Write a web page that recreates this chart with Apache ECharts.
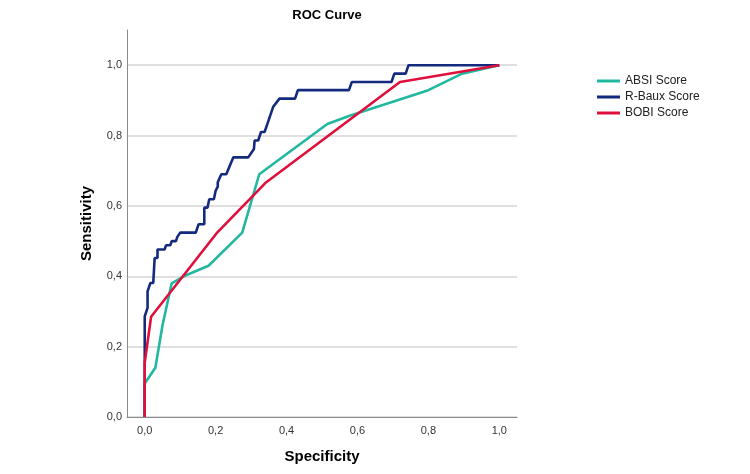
<!DOCTYPE html>
<html>
<head>
<meta charset="utf-8">
<script src="https://cdn.jsdelivr.net/npm/echarts@6/dist/echarts.min.js"></script>
<style>
html,body{margin:0;padding:0;background:#fff;}
#chart{width:750px;height:474px;}
</style>
</head>
<body>
<div id="chart"></div>
<script>
var seriesNames = ['ABSI Score', 'R-Baux Score', 'BOBI Score'];
var tickValues = [0, 0.2, 0.4, 0.6, 0.8, 1.0];

var absiX = [0, 0, 0.03, 0.05, 0.076, 0.11, 0.18, 0.275, 0.323, 0.515, 0.58, 0.8, 0.895, 1];
var absiY = [0, 0.095, 0.14, 0.26, 0.38, 0.4, 0.43, 0.524, 0.69, 0.833, 0.857, 0.929, 0.976, 1];

var rbauxX = [0, 0, 0.008, 0.008, 0.016, 0.024, 0.028, 0.036, 0.036, 0.056, 0.06, 0.072, 0.076, 0.088, 0.092, 0.1, 0.144, 0.152, 0.168, 0.168, 0.177, 0.182, 0.195, 0.2, 0.206, 0.206, 0.216, 0.23, 0.24, 0.25, 0.292, 0.308, 0.31, 0.32, 0.328, 0.338, 0.346, 0.362, 0.38, 0.424, 0.432, 0.576, 0.584, 0.696, 0.704, 0.736, 0.744, 1];
var rbauxY = [0, 0.286, 0.31, 0.357, 0.381, 0.381, 0.452, 0.452, 0.476, 0.476, 0.488, 0.488, 0.5, 0.5, 0.512, 0.524, 0.524, 0.548, 0.548, 0.595, 0.595, 0.619, 0.619, 0.643, 0.655, 0.667, 0.69, 0.69, 0.714, 0.738, 0.738, 0.762, 0.786, 0.786, 0.81, 0.81, 0.833, 0.881, 0.905, 0.905, 0.929, 0.929, 0.952, 0.952, 0.976, 0.976, 1, 1];

var bobiX = [0, 0, 0.018, 0.205, 0.34, 0.72, 1];
var bobiY = [0, 0.155, 0.285, 0.525, 0.665, 0.952, 1];

var colors = ['#22b8a0', '#142a7e', '#e0103c'];

function zip(xs, ys) { return xs.map(function (x, i) { return [x, ys[i]]; }); }

var chart = echarts.init(document.getElementById('chart'), null, {renderer: 'canvas'});
var fmt = function (v) { return v.toFixed(1).replace('.', ','); };
var font = '"Liberation Sans", Arial, sans-serif';

chart.setOption({
  animation: false,
  backgroundColor: '#fff',
  title: {
    text: 'ROC Curve', left: 322, top: 4, textAlign: 'center',
    textStyle: {fontFamily: font, fontSize: 13, fontWeight: 'bold', color: '#000'}
  },
  legend: {
    orient: 'vertical', left: 597, top: 74, padding: 0,
    itemWidth: 23, itemHeight: 3, itemGap: 2, icon: 'rect',
    textStyle: {fontFamily: font, fontSize: 12, color: '#222', lineHeight: 14},
    data: seriesNames
  },
  grid: {left: 127, right: 233, top: 30, bottom: 57},
  xAxis: {
    type: 'value', min: -0.05, max: 1.05,
    name: 'Specificity', nameLocation: 'middle', nameGap: 32,
    nameTextStyle: {fontFamily: font, fontSize: 15, fontWeight: 'bold', color: '#000'},
    axisLine: {show: true, onZero: false, lineStyle: {color: '#8a8a8a', width: 1}},
    axisTick: {show: false, customValues: tickValues},
    axisLabel: {customValues: tickValues, formatter: fmt, fontFamily: font, fontSize: 11, color: '#333', margin: 8},
    splitLine: {show: false}
  },
  yAxis: {
    type: 'value', min: 0, max: 1.1,
    name: 'Sensitivity', nameLocation: 'middle', nameGap: 33,
    nameTextStyle: {fontFamily: font, fontSize: 15, fontWeight: 'bold', color: '#000'},
    axisLine: {show: true, onZero: false, lineStyle: {color: '#8a8a8a', width: 1}},
    axisTick: {show: false, customValues: tickValues},
    axisLabel: {customValues: tickValues, formatter: fmt, fontFamily: font, fontSize: 11, color: '#333', margin: 5},
    splitLine: {show: true, lineStyle: {color: '#d4d4d4', width: 1.5}}
  },
  series: [
    {name: seriesNames[0], type: 'line', data: zip(absiX, absiY), symbol: 'none', color: colors[0], lineStyle: {width: 2.6, color: colors[0]}},
    {name: seriesNames[1], type: 'line', data: zip(rbauxX, rbauxY), symbol: 'none', color: colors[1], lineStyle: {width: 2.6, color: colors[1]}},
    {name: seriesNames[2], type: 'line', data: zip(bobiX, bobiY), symbol: 'none', color: colors[2], lineStyle: {width: 2.6, color: colors[2]}}
  ]
});
</script>
</body>
</html>
